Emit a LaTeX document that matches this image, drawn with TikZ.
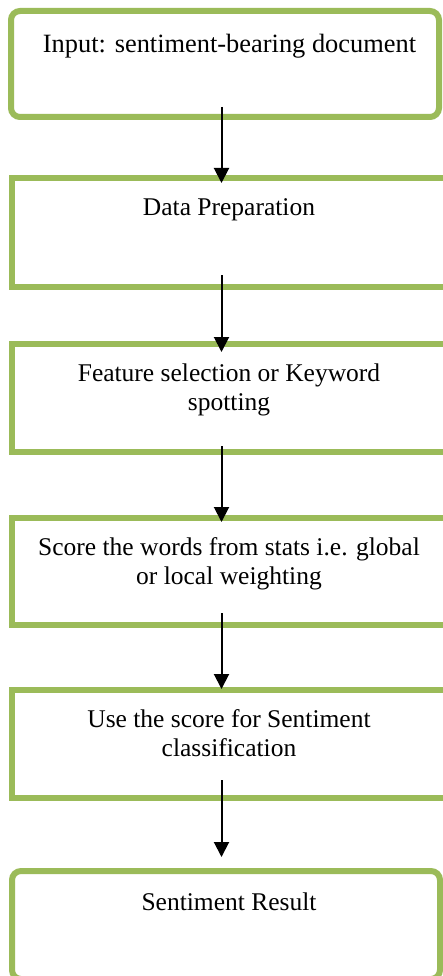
\documentclass[tikz,border=0pt]{standalone}
\usepackage{fontspec}
\setmainfont{Liberation Serif}
\usetikzlibrary{arrows.meta}
\definecolor{boxgreen}{HTML}{9BBB59}
\tikzset{
  stepbox/.style={draw=boxgreen, line width=6pt, fill=white, inner sep=0pt, outer sep=0pt},
  roundbox/.style={stepbox, rounded corners=9pt},
  boxtext/.style={anchor=base, inner sep=0pt, font=\fontsize{25.5}{29}\selectfont},
  firsttext/.style={anchor=base, inner sep=0pt, font=\fontsize{26.4}{30}\selectfont},
  arr/.style={line width=2pt, -{Triangle[width=15pt,length=15pt]}}
}
\begin{document}
\begin{tikzpicture}[x=1pt,y=-1pt]
\useasboundingbox (0,0) rectangle (443,976);
\clip (0,0) rectangle (443,976);
% boxes
\node[roundbox, minimum width=428pt, minimum height=106pt] (b1) at (225,64) {};
\node[stepbox, minimum width=434pt, minimum height=109pt] (b2) at (229,232.5) {};
\node[stepbox, minimum width=434pt, minimum height=108pt] (b3) at (229,398) {};
\node[stepbox, minimum width=434pt, minimum height=107pt] (b4) at (229,571.5) {};
\node[stepbox, minimum width=434pt, minimum height=108pt] (b5) at (229,744) {};
\node[roundbox, minimum width=428pt, minimum height=108pt] (b6) at (226,925) {};
% texts
\node[firsttext] (t1) at ([yshift=-42pt,xshift=4.5pt]b1.north) {Input: sentiment-bearing document};
\node[boxtext] (t2) at ([yshift=-38pt]b2.north) {Data Preparation};
\node[boxtext] (t3) at ([yshift=-37pt]b3.north) {\begin{tabular}[t]{@{}c@{}}Feature selection or Keyword\\ spotting\end{tabular}};
\node[boxtext] (t4) at ([yshift=-37pt]b4.north) {\begin{tabular}[t]{@{}c@{}}Score the words from stats i.e. global\\ or local weighting\end{tabular}};
\node[boxtext] (t5) at ([yshift=-37pt]b5.north) {\begin{tabular}[t]{@{}c@{}}Use the score for Sentiment\\ classification\end{tabular}};
\node[boxtext] (t6) at ([yshift=-39pt,xshift=3pt]b6.north) {Sentiment Result};
% arrows
\draw[arr] ([xshift=-3.5pt,yshift=10pt]b1.south) -- ([xshift=-7.5pt,yshift=-5pt]b2.north);
\draw[arr] ([xshift=-7.5pt,yshift=12pt]b2.south) -- ([xshift=-7.5pt,yshift=-8pt]b3.north);
\draw[arr] ([xshift=-7.5pt,yshift=6pt]b3.south) -- ([xshift=-7.5pt,yshift=-4pt]b4.north);
\draw[arr] ([xshift=-7.5pt,yshift=12pt]b4.south) -- ([xshift=-7.5pt,yshift=1pt]b5.north);
\draw[arr] ([xshift=-7.5pt,yshift=18pt]b5.south) -- ([xshift=-4.5pt,yshift=14pt]b6.north);
\end{tikzpicture}
\end{document}
